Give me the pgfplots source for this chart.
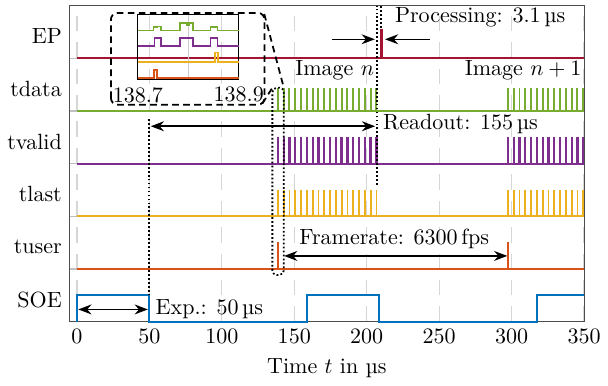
\documentclass[border=0pt]{standalone}
\usepackage{fontspec}
\usepackage{pgfplots}
\pgfplotsset{compat=1.18}
\usepackage{pgfplotstable}
\usetikzlibrary{arrows.meta}

\definecolor{cBlue}{HTML}{0072BD}
\definecolor{cOrange}{HTML}{D95319}
\definecolor{cYellow}{HTML}{EDB120}
\definecolor{cPurple}{HTML}{7E2F8E}
\definecolor{cGreen}{HTML}{77AC30}
\definecolor{cRed}{HTML}{A2142F}

% pulse trains (tdata, tvalid, tlast): time, baseline, height
\pgfplotstableread{
t     bd hd   bv hv  bl hl
138.7 4 0.43 3 0.5 2 0.5
142.7 4 0.43 3 0.5 2 0.5
146.7 4 0.43 3 0.5 2 0.5
150.7 4 0.43 3 0.5 2 0.5
154.7 4 0.43 3 0.5 2 0.5
158.7 4 0.43 3 0.5 2 0.5
162.7 4 0.43 3 0.5 2 0.5
166.7 4 0.43 3 0.5 2 0.5
170.7 4 0.43 3 0.5 2 0.5
174.7 4 0.43 3 0.5 2 0.5
178.7 4 0.43 3 0.5 2 0.5
182.7 4 0.43 3 0.5 2 0.5
186.7 4 0.43 3 0.5 2 0.5
190.7 4 0.43 3 0.5 2 0.5
194.7 4 0.43 3 0.5 2 0.5
198.7 4 0.43 3 0.5 2 0.5
202.7 4 0.43 3 0.5 2 0.5
206.7 4 0.43 3 0.5 2 0.5
297.4 4 0.43 3 0.5 2 0.5
301.4 4 0.43 3 0.5 2 0.5
305.4 4 0.43 3 0.5 2 0.5
309.4 4 0.43 3 0.5 2 0.5
313.4 4 0.43 3 0.5 2 0.5
317.4 4 0.43 3 0.5 2 0.5
321.4 4 0.43 3 0.5 2 0.5
325.4 4 0.43 3 0.5 2 0.5
329.4 4 0.43 3 0.5 2 0.5
333.4 4 0.43 3 0.5 2 0.5
337.4 4 0.43 3 0.5 2 0.5
341.4 4 0.43 3 0.5 2 0.5
345.4 4 0.43 3 0.5 2 0.5
349.4 4 0.43 3 0.5 2 0.5
}\pulses

\begin{document}
\begin{tikzpicture}
\begin{axis}[
  scale only axis, width=233.6pt, height=143.6pt,
  xmin=-5, xmax=350, ymin=0, ymax=6,
  xtick={0,50,...,350},
  ytick={0.42,1.42,2.42,3.42,4.42,5.42},
  yticklabels={SOE,tuser,tlast,tvalid,tdata,EP},
  xmajorgrids,
  major tick length=0pt,
  major grid style={black!16, dash pattern=on 7pt off 5pt, line width=0.6pt},
  xlabel={Time $t$ in µs},
  clip=false,
  axis line style={black!70},
  every axis plot/.append style={line width=0.85pt},
  pulse/.style={draw=none, mark=none, error bars/.cd, y dir=plus, y explicit, error mark=none},
]
% short grey stubs left of t = 0 at each baseline
\addplot[black!25, line width=0.6pt, forget plot] coordinates {(-5,1) (0,1)};
\addplot[black!25, line width=0.6pt, forget plot] coordinates {(-5,2) (0,2)};
\addplot[black!25, line width=0.6pt, forget plot] coordinates {(-5,3) (0,3)};
\addplot[black!25, line width=0.6pt, forget plot] coordinates {(-5,4) (0,4)};
\addplot[black!25, line width=0.6pt, forget plot] coordinates {(-5,5) (0,5)};
% SOE
\addplot[draw=cBlue, line width=0.9pt] coordinates {(0,0) (0,0.5) (50,0.5) (50,0) (158.7,0) (158.7,0.5) (208.7,0.5) (208.7,0) (317.4,0) (317.4,0.5) (350,0.5)};
% tuser
\addplot[draw=cOrange] coordinates {(0,1) (138.4,1) (138.4,1.5) (139.0,1.5) (139.0,1) (297.1,1) (297.1,1.5) (297.7,1.5) (297.7,1) (350,1)};
% tlast, tvalid, tdata baselines
\addplot[draw=cYellow] coordinates {(0,2) (350,2)};
\addplot[draw=cPurple] coordinates {(0,3) (350,3)};
\addplot[draw=cGreen] coordinates {(0,4) (350,4)};
% EP
\addplot[draw=cRed] coordinates {(0,5) (209.8,5) (209.8,5.53) (210.4,5.53) (210.4,5) (350,5)};
% pulse trains
\addplot[pulse, error bar style={draw=cYellow, line width=0.8pt, solid}] table[x=t, y=bl, y error=hl] {\pulses};
\addplot[pulse, error bar style={draw=cPurple, line width=1.05pt, solid}] table[x=t, y=bv, y error=hv] {\pulses};
\addplot[pulse, error bar style={draw=cGreen, line width=0.9pt, solid}] table[x=t, y=bd, y error=hd] {\pulses};

% annotations
\draw[densely dotted, line width=0.8pt] (50,0.5) -- (50,3.85);
\draw[{Stealth[length=6pt,width=4.5pt]}-{Stealth[length=6pt,width=4.5pt]}, line width=0.7pt] (1,0.235) -- (49,0.235);
\node[anchor=west] at (49,0.24) {Exp.: 50\,µs};

\draw[{Stealth[length=6pt,width=4.5pt]}-{Stealth[length=6pt,width=4.5pt]}, line width=0.7pt] (143,1.25) -- (297,1.25);
\node at (219,1.57) {Framerate: 6300\,fps};

\draw[{Stealth[length=6pt,width=4.5pt]}-{Stealth[length=6pt,width=4.5pt]}, line width=0.7pt] (51,3.71) -- (205.8,3.71);
\node[anchor=west] at (206,3.75) {Readout: 155\,µs};

\draw[densely dotted, line width=0.8pt] (207.1,2.6) -- (207.1,6);
\draw[densely dotted, line width=0.8pt] (209.6,5.58) -- (209.6,6);
\draw[-{Stealth[length=6pt,width=4.5pt]}, line width=0.7pt] (175.7,5.36) -- (205.6,5.36);
\draw[-{Stealth[length=6pt,width=4.5pt]}, line width=0.7pt] (243.5,5.36) -- (212.6,5.36);
\node[anchor=west] at (214.2,5.78) {Processing: 3.1\,µs};

\node[anchor=east] at (210.4,4.77) {Image $n$};
\node[anchor=east] at (353.5,4.77) {Image $n+1$};

% zoom boxes
\draw[densely dashed, line width=0.8pt, rounded corners=3pt] (23.5,4.12) rectangle (129.5,5.86);
\draw[densely dotted, line width=0.8pt, rounded corners=2pt] (134.9,0.89) rectangle (142.8,4.44);
\draw[densely dashed, line width=0.8pt] (129.3,5.84) -- (142.8,4.44);
\draw[densely dashed, line width=0.8pt] (128.0,4.14) -- (134.9,4.44);
\end{axis}

\begin{axis}[
  at={(31pt,110pt)}, anchor=south west,
  scale only axis, width=45.8pt, height=29.5pt,
  xmin=138.7, xmax=138.9, ymin=-0.1, ymax=4,
  xtick={138.7,138.8,138.9}, xticklabels={138.7,,138.9},
  ytick=\empty,
  xmajorgrids, major grid style={black!20, line width=0.5pt},
  major tick length=0pt,
  axis line style={black, line width=0.5pt},
  every axis plot/.append style={line width=0.8pt},
]
\addplot[draw=cOrange] coordinates {(138.7,0) (138.732,0) (138.732,0.5) (138.738,0.5) (138.738,0) (138.9,0)};
\addplot[draw=cYellow] coordinates {(138.7,1) (138.853,1) (138.853,1.6) (138.859,1.6) (138.859,1) (138.9,1)};
\addplot[draw=cPurple] coordinates {(138.7,2) (138.733,2) (138.733,2.5) (138.746,2.5) (138.746,2) (138.783,2) (138.783,2.5) (138.809,2.5) (138.809,2) (138.844,2) (138.844,2.5) (138.858,2.5) (138.858,2) (138.9,2)};
\addplot[draw=cGreen] coordinates {(138.7,3) (138.731,3) (138.731,3.2) (138.739,3.2) (138.739,3.25) (138.746,3.25) (138.746,3) (138.783,3) (138.783,3.45) (138.797,3.45) (138.797,3.32) (138.802,3.32) (138.802,3.45) (138.809,3.45) (138.809,3) (138.844,3) (138.844,3.2) (138.858,3.2) (138.858,3) (138.9,3)};
\end{axis}
\end{tikzpicture}
\end{document}
